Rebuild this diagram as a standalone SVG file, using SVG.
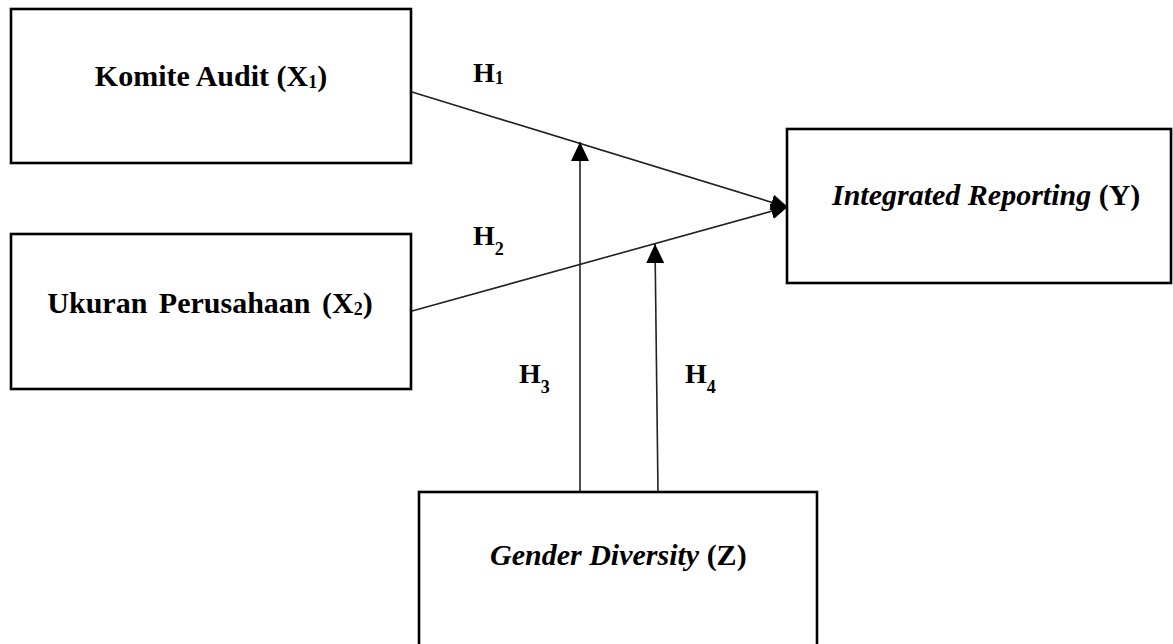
<svg xmlns="http://www.w3.org/2000/svg" width="1173" height="644" viewBox="0 0 1173 644">
<style>
.box{fill:#fff;stroke:#000;stroke-width:2.6}
.t{font-family:"Liberation Serif","Times New Roman",serif;font-size:30px;font-weight:bold;fill:#000}
.it{font-style:italic}
.h{font-family:"Liberation Serif","Times New Roman",serif;font-size:28px;font-weight:bold;fill:#000}
.sub{font-size:18px}
.ln{stroke:#222;stroke-width:1.6;fill:none}
</style>
<defs>
<marker id="ah" viewBox="0 0 17 16" refX="16" refY="8" markerWidth="17" markerHeight="16" markerUnits="userSpaceOnUse" orient="auto">
<path d="M0,0 L17,8 L0,16 z" fill="#000"/>
</marker>
<marker id="av" viewBox="0 0 19 18" refX="19" refY="9" markerWidth="19" markerHeight="18" markerUnits="userSpaceOnUse" orient="auto">
<path d="M0,0 L19,9 L0,18 z" fill="#000"/>
</marker>
</defs>
<rect width="1173" height="644" fill="#fff"/>
<g id="connectors">
<line class="ln" x1="412" y1="92" x2="787" y2="207" marker-end="url(#ah)"/>
<line class="ln" x1="412" y1="311" x2="787" y2="207" marker-end="url(#ah)"/>
<line class="ln" x1="580" y1="492" x2="580" y2="142" marker-end="url(#av)"/>
<line class="ln" x1="658" y1="492" x2="655" y2="244" marker-end="url(#av)"/>
</g>
<g id="node-x1">
<rect class="box" x="11" y="9" width="400" height="154"/>
<text class="t" x="211" y="86" text-anchor="middle">Komite Audit (X<tspan class="sub" dy="2">1</tspan><tspan dy="-2">)</tspan></text>
</g>
<g id="node-x2">
<rect class="box" x="11" y="234" width="400" height="155"/>
<text class="t" x="210" y="313" text-anchor="middle" word-spacing="4">Ukuran Perusahaan (X<tspan class="sub" dy="2">2</tspan><tspan dy="-2">)</tspan></text>
</g>
<g id="node-y">
<rect class="box" x="787" y="129" width="384" height="154"/>
<text class="t" x="832" y="205"><tspan class="it">Integrated Reporting</tspan> (Y)</text>
</g>
<g id="node-z">
<rect class="box" x="419" y="492" width="398" height="170"/>
<text class="t" x="490" y="565"><tspan class="it">Gender Diversity</tspan> (Z)</text>
</g>
<g id="labels">
<text class="h" x="473" y="82">H<tspan class="sub" dy="2">1</tspan></text>
<text class="h" x="473" y="245">H<tspan class="sub" dy="10">2</tspan></text>
<text class="h" x="519" y="383">H<tspan class="sub" dy="10">3</tspan></text>
<text class="h" x="685" y="383">H<tspan class="sub" dy="10">4</tspan></text>
</g>
</svg>
